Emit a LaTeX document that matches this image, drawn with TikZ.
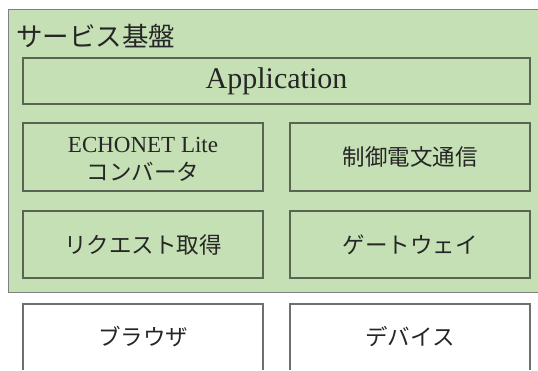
\documentclass[tikz,border=0pt]{standalone}
\usepackage{fontspec}
\setmainfont{Liberation Serif}
\newfontfamily\jp{Noto Sans CJK JP}
\definecolor{boxgreen}{HTML}{C5E0B4}
\definecolor{boxline}{HTML}{5A6452}
\definecolor{outerline}{HTML}{7F7F7F}
\definecolor{whiteline}{HTML}{6F6F6F}
\definecolor{txt}{HTML}{262626}
\begin{document}
\begin{tikzpicture}[x=1pt,y=-1pt,
  gbox/.style={draw=boxline,line width=1.3pt,fill=boxgreen,minimum width=240pt,minimum height=67pt,inner sep=0pt,align=center,text=txt,font=\fontsize{22.5}{28}\selectfont},
  wlabel/.style={font=\fontsize{22.5}{28}\selectfont\jp,inner sep=0pt,text=txt}]
\useasboundingbox (0,0) rectangle (538,370);
% outer service platform
\fill[boxgreen] (8,9) rectangle (538,292);
\draw[outerline,line width=1pt] (538,9) -- (8,9) -- (8,292) -- (538,292);
\node[anchor=west,inner sep=0pt,text=txt,font=\fontsize{26.5}{30}\selectfont\jp] (title) at (16,36) {サービス基盤};
\node[gbox,minimum width=507pt,minimum height=46pt,font=\fontsize{30}{34}\selectfont] (app) at (276.5,81) {Application};
\node[gbox,minimum height=68pt] (echo) at (143,157) {};
\node[align=center,inner sep=0pt,text=txt,font=\fontsize{23}{28}\selectfont] (echotext) at (143,159) {ECHONET Lite\\{\fontsize{22.5}{28}\selectfont\jp コンバータ}};
\node[gbox,minimum height=68pt] (ctrl) at (410,157) {\jp 制御電文通信};
\node[gbox] (req) at (143,244.5) {\jp リクエスト取得};
\node[gbox] (gw) at (410,244.5) {\jp ゲートウェイ};
% bottom boxes (cut off at the lower edge)
\coordinate (bl1) at (23,370); \coordinate (tl1) at (23,304);
\coordinate (tr1) at (263,304); \coordinate (br1) at (263,370);
\coordinate (bl2) at (290,370); \coordinate (tl2) at (290,304);
\coordinate (tr2) at (530,304); \coordinate (br2) at (530,370);
\draw[whiteline,line width=1.3pt] (bl1) -- (tl1) -- (tr1) -- (br1);
\draw[whiteline,line width=1.3pt] (bl2) -- (tl2) -- (tr2) -- (br2);
\node[wlabel] (browser) at (143,337) {ブラウザ};
\node[wlabel] (device) at (410,337) {デバイス};
\end{tikzpicture}
\end{document}
